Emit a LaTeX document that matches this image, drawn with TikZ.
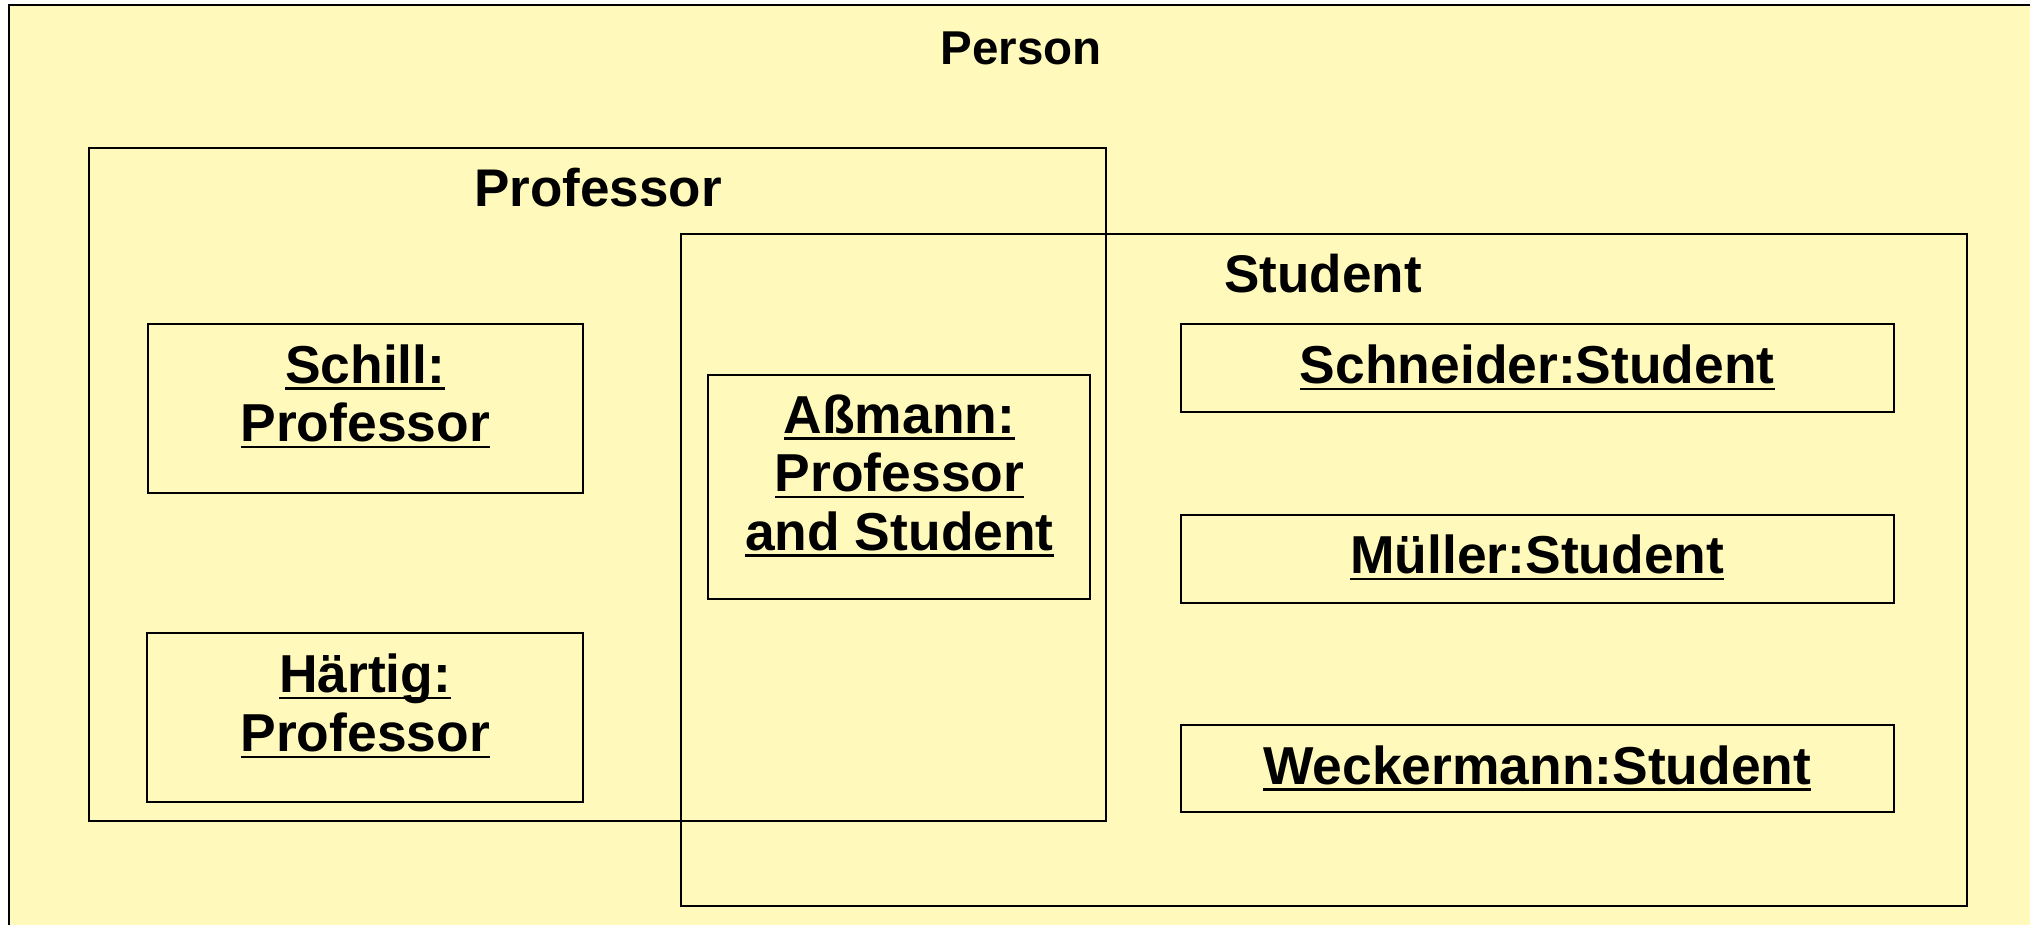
\documentclass[tikz,border=0pt]{standalone}
\usepackage{fontspec}
\setmainfont{Liberation Sans}
\definecolor{personfill}{RGB}{255,250,187}
\newcommand{\ulbox}[1]{\setbox0\hbox{#1}\rlap{\rule[-6.5pt]{\wd0}{2.5pt}}\box0}
\tikzset{
  frame/.style={draw=black, line width=2pt, inner sep=0pt, outer sep=0pt, anchor=north west},
  clstitle/.style={font=\fontsize{53}{58}\selectfont\bfseries, anchor=base, inner sep=0pt},
  objtext/.style={font=\fontsize{53.4}{58}\selectfont\bfseries, anchor=base, inner sep=0pt},
}
\begin{document}
\begin{tikzpicture}[x=1pt,y=-1pt]
\useasboundingbox (0,0) rectangle (2030,924);
\clip (0,0) rectangle (2030,924);
\fill[white] (0,0) rectangle (2030,924);
% Person
\node[frame, line width=2.5pt, fill=personfill, minimum width=2100pt, minimum height=1000pt] (person) at (9,5) {};
\node[clstitle, font=\fontsize{47.5}{52}\selectfont\bfseries] (personlabel) at (1021,64) {Person};
% Professor and Student classes
\node[frame, minimum width=1016.5pt, minimum height=673pt] (professor) at (89,148) {};
\node[clstitle] (professorlabel) at (598,206) {Professor};
\node[frame, minimum width=1285.5pt, minimum height=672pt] (student) at (681,234) {};
\node[clstitle] (studentlabel) at (1323,292) {Student};
% Objects
\node[frame, minimum width=435pt, minimum height=168.5pt] (schill) at (147.7,324.3) {};
\node[objtext] (schillA) at (365.2,383.3) {\ulbox{Schill:}};
\node[objtext] (schillB) at (365.2,441.7) {\ulbox{Professor}};
\node[frame, minimum width=436pt, minimum height=169pt] (haertig) at (147.3,633.3) {};
\node[objtext] (haertigA) at (365.2,692.5) {\ulbox{Härtig:}};
\node[objtext] (haertigB) at (365.2,751.5) {\ulbox{Professor}};
\node[frame, minimum width=381.7pt, minimum height=224.3pt] (assmann) at (708.3,375) {};
\node[objtext] (assmannA) at (899.5,433.3) {\ulbox{Aßmann:}};
\node[objtext] (assmannB) at (899.5,491.7) {\ulbox{Professor}};
\node[objtext] (assmannC) at (899.5,550) {\ulbox{and Student}};
\node[frame, minimum width=712.5pt, minimum height=87.5pt] (schneider) at (1181,324.2) {};
\node[objtext] (schneiderA) at (1537.3,383.8) {\ulbox{Schneider:Student}};
\node[frame, minimum width=712.5pt, minimum height=88pt] (mueller) at (1181,515.2) {};
\node[objtext] (muellerA) at (1537.3,573.8) {\ulbox{Müller:Student}};
\node[frame, minimum width=712.5pt, minimum height=87pt] (weckermann) at (1181,725) {};
\node[objtext] (weckermannA) at (1537.3,784) {\ulbox{Weckermann:Student}};
\end{tikzpicture}
\end{document}
